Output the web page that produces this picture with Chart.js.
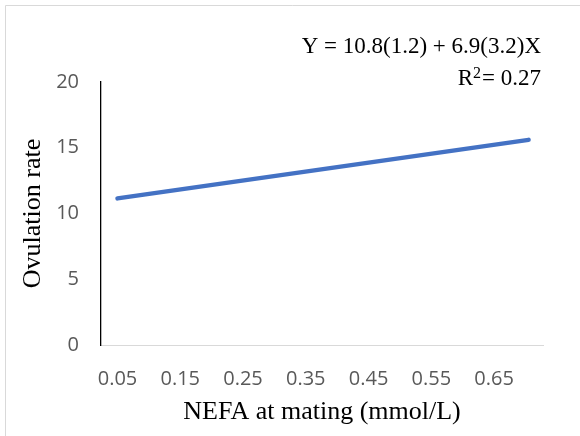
<!DOCTYPE html>
<html>
<head>
<meta charset="utf-8">
<script src="https://cdn.jsdelivr.net/npm/chart.js@4/dist/chart.umd.min.js"></script>
<style>
  html, body { margin: 0; padding: 0; background: #ffffff; }
  #wrap { position: relative; width: 580px; height: 436px; }
</style>
</head>
<body>
<div id="wrap"><canvas id="c" width="580" height="436"></canvas></div>
<script>
// ---- data ----
const nefaValues = [0.05, 0.705];          // x (mmol/L), ends of fitted line
const ovulationValues = [11.15, 15.6];      // y, fitted ovulation rate
const xTickLabels = [0.05, 0.15, 0.25, 0.35, 0.45, 0.55, 0.65];
const yTickLabels = [0, 5, 10, 15, 20];
const equationLine1 = 'Y = 10.8(1.2) + 6.9(3.2)X';
const r2Value = '0.27';
const xTitle = 'NEFA at mating (mmol/L)';
const yTitle = 'Ovulation rate';

const serif = '"Liberation Serif", "Times New Roman", serif';
const sans = '"Open Sans", "Liberation Sans", sans-serif';

const points = nefaValues.map((x, i) => ({ x: x, y: ovulationValues[i] }));

const framePlugin = {
  id: 'frame',
  beforeDraw(chart) {
    const ctx = chart.ctx;
    ctx.save();
    ctx.fillStyle = '#ffffff';
    ctx.fillRect(0, 0, chart.width, chart.height);
    ctx.strokeStyle = '#d9d9d9';
    ctx.lineWidth = 1;
    ctx.beginPath();
    ctx.moveTo(5.5, chart.height);
    ctx.lineTo(5.5, 5.5);
    ctx.lineTo(chart.width, 5.5);
    ctx.stroke();
    ctx.restore();
  }
};

const equationPlugin = {
  id: 'equation',
  afterDraw(chart) {
    const ctx = chart.ctx;
    const right = chart.chartArea.right - 2;
    ctx.save();
    ctx.fillStyle = '#000000';
    ctx.textBaseline = 'alphabetic';
    ctx.textAlign = 'right';
    ctx.font = '23px ' + serif;
    ctx.fillText(equationLine1, right, 53);
    const tail = '= ' + r2Value;
    const wTail = ctx.measureText(tail).width;
    ctx.fillText(tail, right, 85);
    ctx.font = '16px ' + serif;
    const wSup = ctx.measureText('2').width;
    ctx.fillText('2', right - wTail - 1, 78);
    ctx.font = '23px ' + serif;
    ctx.fillText('R', right - wTail - 1 - wSup, 85);
    ctx.restore();
  }
};

new Chart(document.getElementById('c'), {
  type: 'scatter',
  data: {
    datasets: [{
      data: points,
      showLine: true,
      borderColor: '#4472c4',
      backgroundColor: '#4472c4',
      borderWidth: 4.5,
      borderCapStyle: 'round',
      pointRadius: 0,
      pointHoverRadius: 0,
      tension: 0
    }]
  },
  options: {
    responsive: false,
    animation: false,
    events: [],
    layout: { padding: { top: 82, right: 37, left: 18, bottom: 8 } },
    plugins: {
      legend: { display: false },
      tooltip: { enabled: false }
    },
    scales: {
      x: {
        type: 'linear',
        min: 0.0237,
        max: 0.728,
        afterBuildTicks(scale) {
          scale.ticks = xTickLabels.map(v => ({ value: v }));
        },
        afterFit(scale) { scale.height = 436 - 345 - 8; },
        ticks: {
          color: '#595959',
          font: { family: sans, size: 20 },
          padding: 22,
          maxRotation: 0,
          autoSkip: false,
          callback: v => v.toFixed(2)
        },
        grid: { display: false, drawTicks: false },
        border: { display: true, color: '#d9d9d9', width: 1 },
        title: {
          display: true,
          text: xTitle,
          color: '#000000',
          font: { family: serif, size: 26 },
          padding: { top: 6, bottom: 0 }
        }
      },
      y: {
        min: 0,
        max: 20,
        afterBuildTicks(scale) {
          scale.ticks = yTickLabels.map(v => ({ value: v }));
        },
        afterFit(scale) { scale.width = 101 - 18; },
        ticks: {
          color: '#595959',
          font: { family: sans, size: 20 },
          padding: 22
        },
        grid: { display: false, drawTicks: false },
        border: { display: true, color: '#000000', width: 1.3 },
        title: {
          display: true,
          text: yTitle,
          color: '#000000',
          font: { family: serif, size: 26 },
          padding: { top: 0, bottom: 6 }
        }
      }
    }
  },
  plugins: [framePlugin, equationPlugin]
});
</script>
</body>
</html>
